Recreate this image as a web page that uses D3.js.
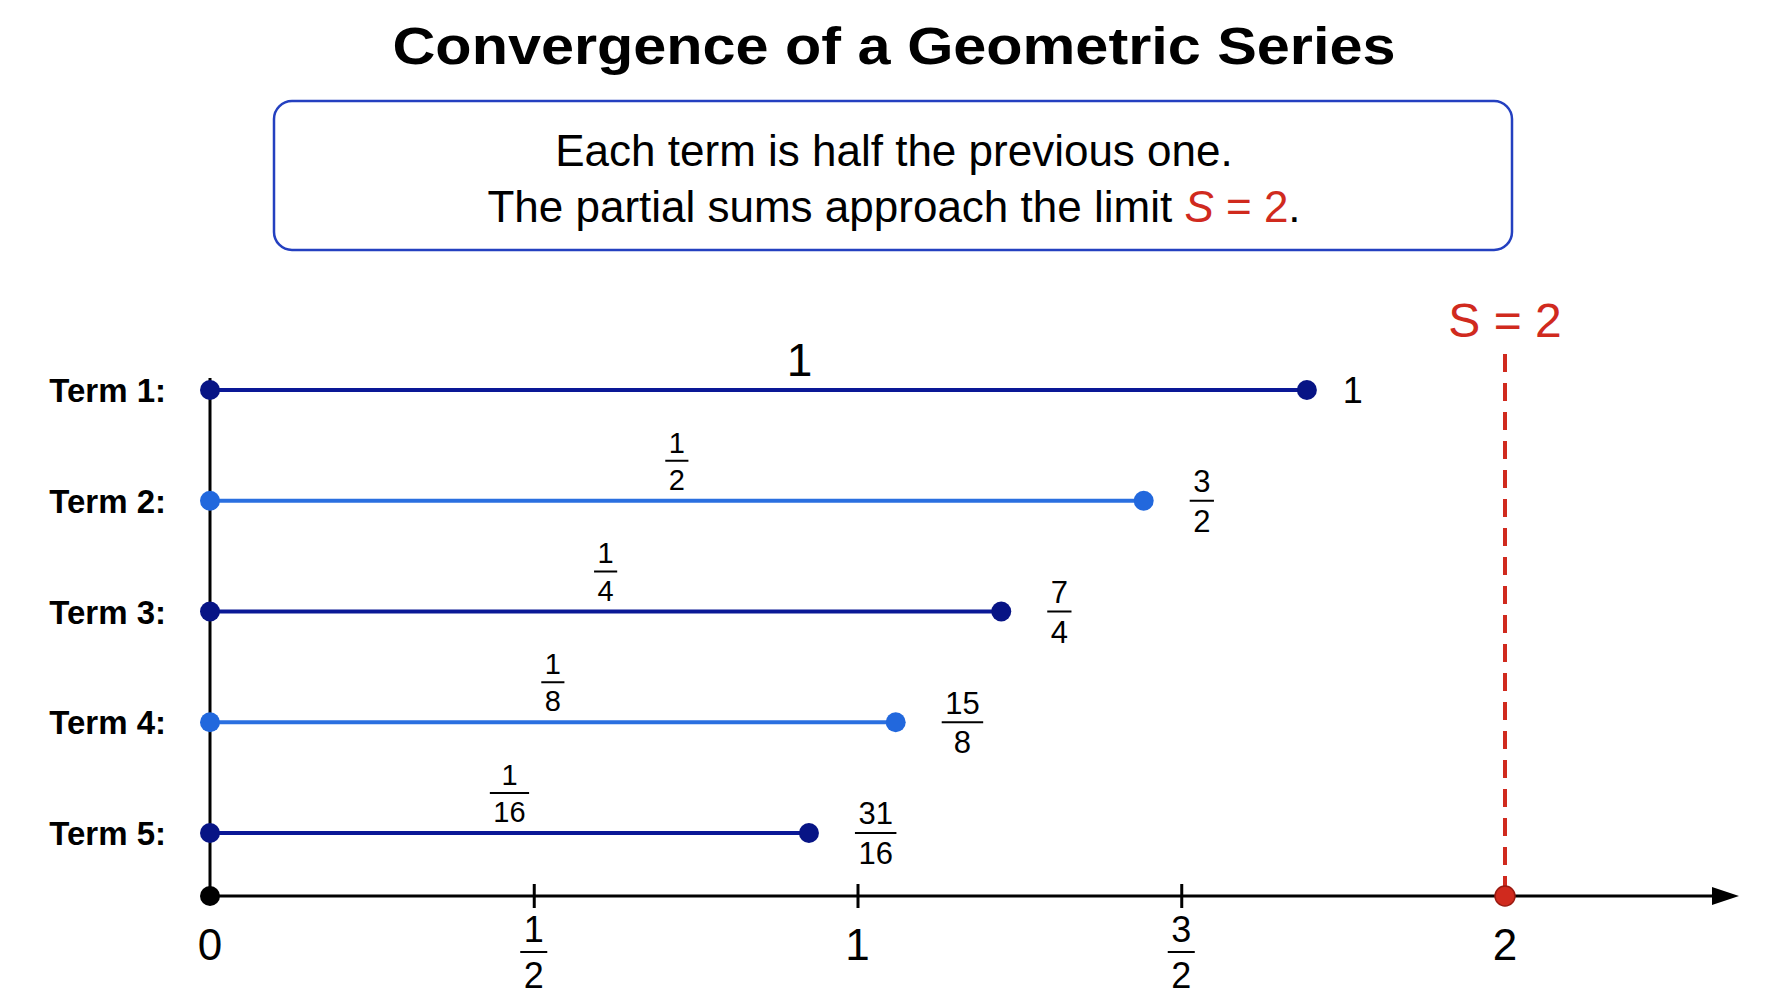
<!DOCTYPE html>
<html>
<head>
<meta charset="utf-8">
<script src="https://cdn.jsdelivr.net/npm/d3@7"></script>
<style>
  body { margin: 0; background: #fff; }
  svg { display: block; font-family: "Liberation Sans", Arial, Helvetica, sans-serif; }
</style>
</head>
<body>
<div id="chart"></div>
<script>
const termNames = ["Term 1:", "Term 2:", "Term 3:", "Term 4:", "Term 5:"];
const termLabels = ["1", "1/2", "1/4", "1/8", "1/16"];
const sumLabels = ["1", "3/2", "7/4", "15/8", "31/16"];
// where each segment ends on the number line, as drawn in the picture
const segmentEnds = [1.694, 1.442, 1.222, 1.059, 0.925];
const tickValues = [0, 0.5, 1, 1.5, 2];
const tickLabels = ["0", "1/2", "1", "3/2", "2"];
const limit = 2;

const width = 1792;
const height = 1008;

const dark = "#0a1896";
const darkDot = "#071485";
const light = "#2a6fe0";
const lightDot = "#2268dd";
const red = "#d02a1e";

const svg = d3
  .select("#chart")
  .append("svg")
  .attr("width", width)
  .attr("height", height);

svg.append("rect").attr("width", width).attr("height", height).attr("fill", "#fff");

// title
svg
  .append("text")
  .attr("x", 894)
  .attr("y", 64)
  .attr("text-anchor", "middle")
  .attr("font-size", 51)
  .attr("font-weight", "bold")
  .attr("textLength", 1003)
  .attr("lengthAdjust", "spacingAndGlyphs")
  .attr("fill", "#000")
  .text("Convergence of a Geometric Series");

// note box
svg
  .append("rect")
  .attr("x", 274)
  .attr("y", 101)
  .attr("width", 1238)
  .attr("height", 149)
  .attr("rx", 18)
  .attr("fill", "#fff")
  .attr("stroke", "#2440c0")
  .attr("stroke-width", 2.5);

svg
  .append("text")
  .attr("x", 894)
  .attr("y", 166)
  .attr("text-anchor", "middle")
  .attr("font-size", 44)
  .text("Each term is half the previous one.");

const line2 = svg
  .append("text")
  .attr("x", 894)
  .attr("y", 222)
  .attr("text-anchor", "middle")
  .attr("font-size", 44);
line2.append("tspan").text("The partial sums approach the limit ");
line2.append("tspan").attr("fill", red).attr("font-style", "italic").text("S");
line2.append("tspan").attr("fill", red).text(" = " + limit);
line2.append("tspan").text(".");

// scales
const x = d3.scaleLinear().domain([0, 2]).range([210, 1505]);
const y = d3.scalePoint().domain(termNames).range([390, 833]);
const axisY = 896;

// draws "a/b" as a stacked fraction centred on 0, bar at 0
const fraction = (g, label, size) => {
  const [num, den] = label.split("/");
  const top = g
    .append("text")
    .attr("text-anchor", "middle")
    .attr("font-size", size)
    .attr("y", -0.28 * size)
    .text(num);
  const bottom = g
    .append("text")
    .attr("text-anchor", "middle")
    .attr("font-size", size)
    .attr("y", 1.0 * size)
    .text(den);
  const w =
    Math.max(top.node().getComputedTextLength(), bottom.node().getComputedTextLength()) + 7;
  g.append("line")
    .attr("x1", -w / 2)
    .attr("x2", w / 2)
    .attr("stroke", "#000")
    .attr("stroke-width", 2);
  return w;
};

const plot = svg.append("g");

// limit line
plot
  .append("line")
  .attr("x1", x(limit))
  .attr("x2", x(limit))
  .attr("y1", 354)
  .attr("y2", axisY)
  .attr("stroke", red)
  .attr("stroke-width", 4)
  .attr("stroke-dasharray", "18 11");

plot
  .append("text")
  .attr("x", x(limit))
  .attr("y", 337)
  .attr("text-anchor", "middle")
  .attr("font-size", 48)
  .attr("fill", red)
  .text("S = " + limit);

// vertical line at zero
plot
  .append("line")
  .attr("x1", x(0))
  .attr("x2", x(0))
  .attr("y1", y(termNames[0]) - 12)
  .attr("y2", axisY)
  .attr("stroke", "#000")
  .attr("stroke-width", 3);

// number line
plot
  .append("line")
  .attr("x1", x(0))
  .attr("x2", 1716)
  .attr("y1", axisY)
  .attr("y2", axisY)
  .attr("stroke", "#000")
  .attr("stroke-width", 3);

plot
  .append("path")
  .attr("d", `M1712,${axisY - 9}L1739,${axisY}L1712,${axisY + 9}Z`)
  .attr("fill", "#000");

const xAxis = plot
  .append("g")
  .attr("transform", `translate(0,${axisY})`)
  .call(d3.axisBottom(x).tickValues(tickValues.filter((v) => v > 0 && v < limit)).tickSize(12).tickFormat(""));
xAxis.select(".domain").remove();
xAxis.selectAll(".tick line").attr("y1", -12).attr("stroke", "#000").attr("stroke-width", 3);

// tick labels
tickValues.forEach((v, i) => {
  const g = plot.append("g");
  const label = tickLabels[i];
  if (label.includes("/")) {
    g.attr("transform", `translate(${x(v)},952)`);
    fraction(g, label, 36);
  } else {
    g.attr("transform", `translate(${x(v)},960)`);
    g.append("text").attr("text-anchor", "middle").attr("font-size", 44).text(label);
  }
});

// term rows
const rows = plot
  .selectAll("g.row")
  .data(termNames)
  .join("g")
  .attr("class", "row")
  .attr("transform", (d) => `translate(0,${y(d)})`);

rows
  .append("text")
  .attr("x", 166)
  .attr("y", 12)
  .attr("text-anchor", "end")
  .attr("font-size", 33)
  .attr("font-weight", "bold")
  .text((d) => d);

rows
  .append("line")
  .attr("x1", x(0))
  .attr("x2", (d, i) => x(segmentEnds[i]))
  .attr("stroke", (d, i) => (i % 2 ? light : dark))
  .attr("stroke-width", 4);

rows
  .append("circle")
  .attr("cx", x(0))
  .attr("r", 10)
  .attr("fill", (d, i) => (i % 2 ? lightDot : darkDot));

rows
  .append("circle")
  .attr("cx", (d, i) => x(segmentEnds[i]))
  .attr("r", 10)
  .attr("fill", (d, i) => (i % 2 ? lightDot : darkDot));

rows.each(function (d, i) {
  const row = d3.select(this);
  const mid = (x(0) + x(segmentEnds[i])) / 2;

  // term size above the segment
  const t = row.append("g");
  if (termLabels[i].includes("/")) {
    t.attr("transform", `translate(${mid},-40)`);
    fraction(t, termLabels[i], 29);
  } else {
    t.attr("transform", `translate(${mid + 41},-14)`);
    t.append("text").attr("text-anchor", "middle").attr("font-size", 46).text(termLabels[i]);
  }

  // partial sum right of the end dot
  const s = row.append("g");
  const end = x(segmentEnds[i]);
  if (sumLabels[i].includes("/")) {
    const w = fraction(s, sumLabels[i], 31);
    s.attr("transform", `translate(${end + 46 + w / 2},0)`);
  } else {
    s.append("text").attr("font-size", 36).attr("y", 13).text(sumLabels[i]);
    s.attr("transform", `translate(${end + 36},0)`);
  }
});

// origin and limit points on the number line
plot.append("circle").attr("cx", x(0)).attr("cy", axisY).attr("r", 10).attr("fill", "#000");
plot
  .append("circle")
  .attr("cx", x(limit))
  .attr("cy", axisY)
  .attr("r", 10)
  .attr("fill", red)
  .attr("stroke", "#9a1a10")
  .attr("stroke-width", 1.5);
</script>
</body>
</html>
